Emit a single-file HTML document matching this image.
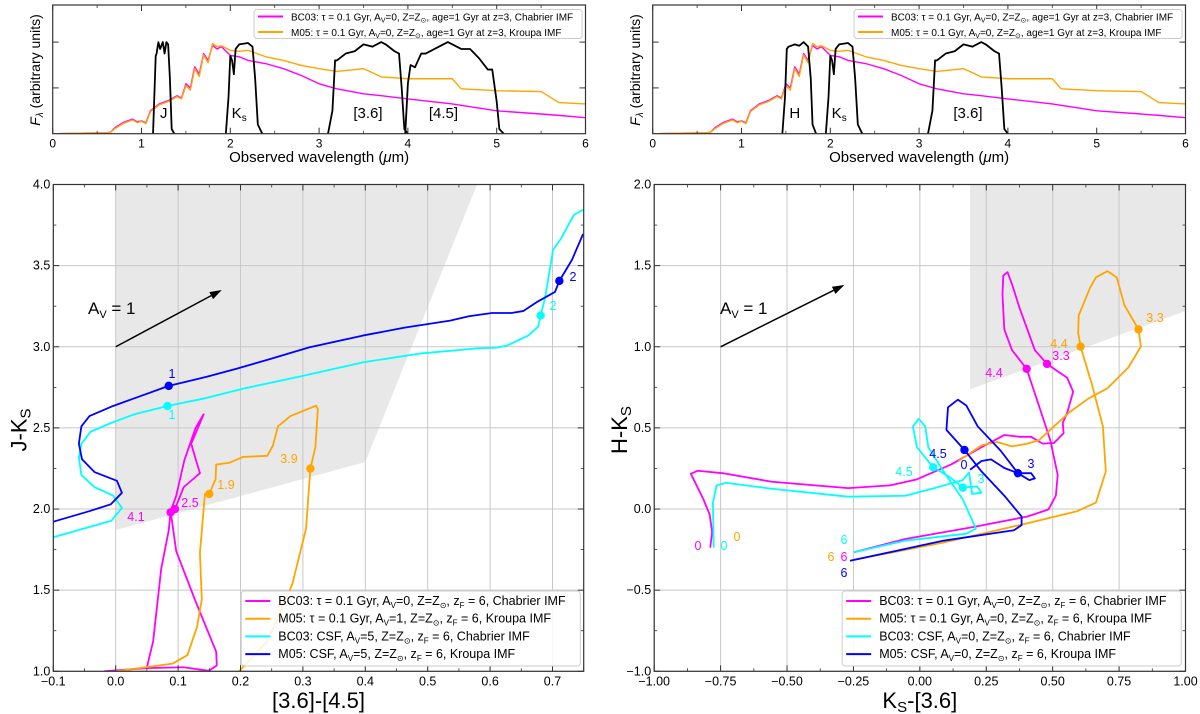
<!DOCTYPE html>
<html><head><meta charset="utf-8">
<style>
html,body{margin:0;padding:0;background:#fff;}
svg{display:block;font-family:"Liberation Sans","DejaVu Sans",sans-serif;}
</style></head>
<body>
<svg id="fig" width="1200" height="714" viewBox="0 0 1200 714" xmlns="http://www.w3.org/2000/svg"></svg>
<script>
// ===== DATA =====
const specWl   = [0.05,0.3,0.6,0.65,0.7,0.8,0.9,0.95,1.0,1.05,1.1,1.2,1.3,1.4,1.45,1.5,1.55,1.6,1.65,1.7,1.75,1.8,1.85,1.9,2.0,2.1,2.2,2.4,2.6,2.8,3.0,3.2,3.5,3.7,4.0,4.5,4.6,5.0,5.5,5.7,6.0];
const bc03Flux = [0.0,0.01,0.02,0.03,0.13,0.25,0.32,0.26,0.28,0.24,0.5,0.65,0.72,0.83,0.78,1.09,1.0,1.46,1.3,1.75,1.6,1.93,1.85,1.9,1.71,1.68,1.6,1.53,1.42,1.27,1.09,0.98,0.87,0.83,0.76,0.65,0.62,0.5,0.43,0.4,0.35];
const m05Flux  = [0.0,0.01,0.02,0.03,0.11,0.23,0.3,0.24,0.27,0.22,0.48,0.63,0.7,0.81,0.76,1.05,0.95,1.42,1.25,1.72,1.55,1.97,1.9,1.92,1.82,1.8,1.82,1.68,1.6,1.49,1.42,1.36,1.42,1.24,1.2,1.2,0.98,0.94,0.92,0.68,0.65];
const jWl = [1.13,1.16,1.17,1.19,1.21,1.24,1.26,1.28,1.30,1.32,1.34,1.37];
const jTr = [0,1.7,1.75,2.0,1.85,2.0,1.75,2.0,1.95,1.2,0.1,0];
const ksWl = [1.95,1.98,2.0,2.02,2.04,2.06,2.1,2.2,2.25,2.28,2.31,2.36];
const ksTr = [0,0.8,1.7,1.6,1.3,1.85,1.95,1.98,1.9,1.2,0.2,0];
const i1Wl = [3.1,3.15,3.18,3.2,3.3,3.4,3.5,3.6,3.7,3.75,3.85,3.9,3.93,3.96,4.0];
const i1Tr = [0,0.5,1.6,1.6,1.75,1.8,1.95,1.9,2.0,1.95,1.8,1.75,1.0,0.1,0];
const i2Wl = [3.97,4.0,4.03,4.08,4.15,4.2,4.3,4.45,4.6,4.7,4.8,4.9,4.95,5.0,5.03,5.08];
const i2Tr = [0,1.1,1.5,1.45,1.75,1.75,1.85,2.0,1.85,1.85,1.65,1.4,1.4,0.7,0.1,0];
const hWl = [1.46,1.49,1.51,1.53,1.6,1.65,1.7,1.75,1.78,1.8,1.84];
const hTr = [0,0.8,1.85,1.9,1.95,1.92,2.0,1.9,1.2,0.2,0];

// left CCD: [3.6]-[4.5] vs J-Ks
const lBlueX = [-0.1,-0.043,-0.008,0.010,0.002,-0.034,-0.054,-0.059,-0.055,-0.042,-0.007,0.036,0.085,0.146,0.195,0.249,0.310,0.396,0.463,0.536,0.566,0.603,0.634,0.653,0.676,0.704,0.711,0.731,0.749];
const lBlueY = [1.922,1.986,2.029,2.100,2.174,2.228,2.307,2.403,2.510,2.573,2.631,2.691,2.759,2.815,2.866,2.926,2.996,3.069,3.118,3.161,3.188,3.208,3.208,3.220,3.278,3.338,3.406,3.534,3.695];
const lCyanX = [-0.1,-0.062,-0.007,0.010,-0.004,-0.034,-0.055,-0.059,-0.055,-0.040,-0.007,0.030,0.083,0.140,0.207,0.298,0.396,0.487,0.579,0.609,0.627,0.661,0.677,0.681,0.688,0.701,0.713,0.734,0.749];
const lCyanY = [1.826,1.868,1.928,2.007,2.082,2.135,2.210,2.317,2.402,2.477,2.531,2.584,2.635,2.680,2.744,2.819,2.904,2.958,2.990,2.994,3.007,3.069,3.124,3.193,3.299,3.598,3.663,3.812,3.844];
const lMagX = [-0.019,0.05,0.109,0.149,0.162,0.161,0.127,0.097,0.088,0.095,0.109,0.135,0.129,0.121,0.134,0.141,0.128,0.11,0.097,0.088,0.085,0.073,0.06,0.05];
const lMagY = [1.0,1.02,1.025,1.003,1.036,1.121,1.441,1.74,1.986,2.0,2.135,2.221,2.296,2.402,2.52,2.584,2.5,2.3,2.082,1.986,1.868,1.634,1.185,1.025];
const lOrgX = [0.0,0.091,0.115,0.130,0.138,0.135,0.143,0.150,0.160,0.161,0.182,0.204,0.243,0.252,0.260,0.280,0.321,0.324,0.320,0.312,0.305,0.283,0.243,0.198];
const lOrgY = [1.0,1.047,1.1,1.27,1.441,1.730,2.093,2.093,2.183,2.274,2.285,2.321,2.328,2.392,2.509,2.573,2.637,2.616,2.381,2.249,1.879,1.537,1.185,1.0];
const lMarkX = [0.085,0.711,0.083,0.681,0.088,0.095,0.150,0.312];
const lMarkY = [2.759,3.406,2.635,3.193,1.980,2.000,2.093,2.249];
const lMarkC = ["#0000ff","#0000ff","#00ffff","#00ffff","#ff00ff","#ff00ff","#ffa500","#ffa500"];
const lMarkT = ["1","2","1","2","4.1","2.5","1.9","3.9"];

// right CCD: Ks-[3.6] vs H-Ks
const rMagX = [-0.789,-0.782,-0.791,-0.815,-0.862,-0.836,-0.743,-0.557,-0.270,-0.112,-0.011,0.118,0.232,0.318,0.376,0.419,0.462,0.505,0.541,0.538,0.555,0.577,0.555,0.479,0.433,0.376,0.347,0.330,0.314,0.311,0.318,0.347,0.402,0.448,0.491,0.519,0.512,0.484,0.405,0.204,-0.055,-0.248];
const rMagY = [-0.238,-0.142,-0.035,0.061,0.217,0.236,0.221,0.168,0.129,0.146,0.183,0.275,0.381,0.456,0.445,0.445,0.403,0.407,0.467,0.531,0.595,0.723,0.808,0.894,0.979,1.236,1.385,1.460,1.438,1.321,1.107,0.979,0.864,0.638,0.424,0.210,0.082,-0.003,-0.046,-0.110,-0.185,-0.266];
const rOrgX = [0.146,0.232,0.29,0.347,0.405,0.448,0.491,0.562,0.634,0.706,0.785,0.832,0.823,0.770,0.741,0.706,0.663,0.641,0.598,0.596,0.605,0.648,0.689,0.700,0.663,0.591,0.376,0.089,-0.248];
const rOrgY = [0.296,0.392,0.413,0.386,0.403,0.424,0.488,0.595,0.680,0.744,0.873,1.001,1.107,1.257,1.428,1.466,1.428,1.364,1.193,1.086,1.001,0.766,0.510,0.232,0.040,-0.014,-0.099,-0.206,-0.313];
const rCyanX = [-0.776,-0.779,-0.765,-0.729,-0.557,-0.27,-0.055,0.046,0.161,0.185,0.197,0.232,0.215,0.162,0.11,0.05,-0.011,-0.026,-0.004,0.020,0.032,0.089,0.161,0.211,0.175,-0.055,-0.248];
const rCyanY = [-0.238,0.039,0.146,0.161,0.125,0.076,0.082,0.125,0.178,0.225,0.093,0.100,0.14,0.132,0.2,0.257,0.381,0.509,0.556,0.509,0.381,0.232,0.061,-0.120,-0.152,-0.195,-0.266];
const rBlueX = [0.189,0.232,0.268,0.318,0.369,0.419,0.433,0.412,0.369,0.304,0.218,0.175,0.143,0.106,0.100,0.168,0.232,0.318,0.383,0.383,0.354,0.089,-0.263];
const rBlueY = [0.242,0.296,0.306,0.253,0.221,0.221,0.189,0.178,0.221,0.360,0.509,0.638,0.674,0.627,0.488,0.364,0.232,0.082,-0.046,-0.099,-0.131,-0.195,-0.319];
const rMarkX = [0.479,0.402,0.823,0.605,0.168,0.369,0.050,0.162];
const rMarkY = [0.894,0.864,1.107,1.001,0.364,0.221,0.257,0.132];
const rMarkC = ["#ff00ff","#ff00ff","#ffa500","#ffa500","#0000ff","#0000ff","#00ffff","#00ffff"];

const lXTicks = [-0.1,0.0,0.1,0.2,0.3,0.4,0.5,0.6,0.7];
const lXTickLabels = ["\u22120.1","0.0","0.1","0.2","0.3","0.4","0.5","0.6","0.7"];
const lYTicks = [1.0,1.5,2.0,2.5,3.0,3.5,4.0];
const lYTickLabels = ["1.0","1.5","2.0","2.5","3.0","3.5","4.0"];
const rXTicks = [-1,-0.75,-0.5,-0.25,0,0.25,0.5,0.75,1.0];
const rXTickLabels = ["\u22121.00","\u22120.75","\u22120.50","\u22120.25","0.00","0.25","0.50","0.75","1.00"];
const rYTicks = [-1,-0.5,0,0.5,1.0,1.5,2.0];
const rYTickLabels = ["\u22121.0","\u22120.5","0.0","0.5","1.0","1.5","2.0"];
const sXTicks = [0,1,2,3,4,5,6];
const sXTickLabels = ["0","1","2","3","4","5","6"];

// ===== DRAWING =====
const NS = "http://www.w3.org/2000/svg";
const svg = document.getElementById("fig");
function mk(tag, attrs, parent){
  const e = document.createElementNS(NS, tag);
  for (const k in attrs) e.setAttribute(k, attrs[k]);
  (parent||svg).appendChild(e);
  return e;
}
function group(name){
  const g = mk("g", {});
  
  
  return g;
}
function pathD(xs, ys, sx, sy){
  let d = "";
  for (let i=0;i<xs.length;i++) d += (i?"L":"M")+sx(xs[i]).toFixed(2)+","+sy(ys[i]).toFixed(2);
  return d;
}
function txt(parent, x, y, s, opts){
  const t = mk("text", Object.assign({x:x, y:y, "font-size":12, fill:"#000"}, opts||{}), parent);
  t.textContent = s;
  return t;
}
function frameAndTicks(g, x0, x1, y0, y1, xt, xtl, sx, yt, ytl, sy, xminor, yminor, showYLabels, fs){
  for (const v of xminor){ const X=sx(v);
    mk("line",{x1:X,y1:y1,x2:X,y2:y1-3,stroke:"#333","stroke-width":0.8},g);
    mk("line",{x1:X,y1:y0,x2:X,y2:y0+3,stroke:"#333","stroke-width":0.8},g);}
  for (const v of yminor){ const Y=sy(v);
    mk("line",{x1:x0,y1:Y,x2:x0+3,y2:Y,stroke:"#333","stroke-width":0.8},g);
    mk("line",{x1:x1,y1:Y,x2:x1-3,y2:Y,stroke:"#333","stroke-width":0.8},g);}
  xt.forEach((v,i)=>{ const X=sx(v);
    mk("line",{x1:X,y1:y1,x2:X,y2:y1-6,stroke:"#333","stroke-width":1},g);
    mk("line",{x1:X,y1:y0,x2:X,y2:y0+6,stroke:"#333","stroke-width":1},g);
    const t = txt(g, X, y1+14, xtl[i], {"text-anchor":"middle","font-size":fs});
    
    
  });
  yt.forEach((v,i)=>{ const Y=sy(v);
    mk("line",{x1:x0,y1:Y,x2:x0+6,y2:Y,stroke:"#333","stroke-width":1},g);
    mk("line",{x1:x1,y1:Y,x2:x1-6,y2:Y,stroke:"#333","stroke-width":1},g);
    if (showYLabels){
      const t = txt(g, x0-3, Y+4, ytl[i], {"text-anchor":"end","font-size":fs});
      
      
    }
  });
  const r = mk("rect",{x:x0,y:y0,width:x1-x0,height:y1-y0,fill:"none",stroke:"#333","stroke-width":1.2},g);
  
  
}
function legend(g, x, y, w, h, entries, fs, rowH, firstY){
  const r = mk("rect",{x:x,y:y,width:w,height:h,rx:3,fill:"#fff","fill-opacity":0.85,stroke:"#ccc","stroke-width":1},g);
  
  
  entries.forEach((e,i)=>{
    const yy = firstY + i*rowH;
    const eg = mk("g",{},g);
    
    
    mk("line",{x1:x+4,y1:yy,x2:x+29,y2:yy,stroke:e.c,"stroke-width":2},eg);
    const t = mk("text",{x:x+37,y:yy+4,"font-size":fs,fill:"#000"},eg);
    t.innerHTML = e.h;
  });
}
function series(g, xs, ys, sx, sy, color, name, w){
  const p = mk("path",{d:pathD(xs,ys,sx,sy),fill:"none",stroke:color,"stroke-width":w||1.8,"stroke-linejoin":"round"},g);
  
  
  return p;
}

// ---------- Spectrum panels ----------
function spectrumPanel(offX, filters, name){
  const g = group(name);
  const x0 = 52.7+offX, x1 = 585.5+offX, y0 = 5, y1 = 133.7;
  const sx = v => x0 + v*(x1-x0)/6;
  const sy = v => y1 - v*45.8;
  const cp = mk("clipPath",{id:"clip"+name},g);
  mk("rect",{x:x0,y:y0,width:x1-x0,height:y1-y0},cp);
  const inner = mk("g",{"clip-path":"url(#clip"+name+")"},g);
  series(inner, specWl, bc03Flux, sx, sy, "#ff00ff", "bc03-spectrum", 1.4);
  series(inner, specWl, m05Flux, sx, sy, "#ffa500", "m05-spectrum", 1.4);
  filters.forEach(f=>{
    series(inner, f.wl, f.tr, sx, sy, "#000", f.name, 1.8);
    const t = txt(g, sx(f.lx), 118, f.lab, {"font-size":15,"text-anchor":"middle"});
    if (f.sub){ const ts = mk("tspan",{"font-size":10,dy:3},t); ts.textContent=f.sub; }
    
    
  });
  frameAndTicks(g, x0, x1, y0, y1, sXTicks, sXTickLabels, sx, [1,2], ["",""], sy,
    [0.5,1.5,2.5,3.5,4.5,5.5], [], false, 12);
  const xl = txt(g, (x0+x1)/2, 162, "", {"text-anchor":"middle","font-size":15});
  xl.innerHTML = 'Observed wavelength (<tspan font-style="italic">\u03bc</tspan>m)';
  
  
  const yl = txt(g, 0, 0, "", {"font-size":14,"text-anchor":"middle",transform:"translate("+(offX+40)+",70) rotate(-90)"});
  yl.innerHTML = '<tspan font-style="italic">F</tspan><tspan font-size="10" dy="3" font-style="italic">\u03bb</tspan><tspan dy="-3"> (arbitrary units)</tspan>';
  
  
  legend(g, 254+offX, 9.5, 328, 29, [
    {c:"#ff00ff", h:'BC03: \u03c4 = 0.1 Gyr, A<tspan font-size="7" dy="2">V</tspan><tspan dy="-2">=0, Z=Z</tspan><tspan font-size="7" dy="2">\u2299</tspan><tspan dy="-2">, age=1 Gyr at z=3, Chabrier IMF</tspan>'},
    {c:"#ffa500", h:'M05: \u03c4 = 0.1 Gyr, A<tspan font-size="7" dy="2">V</tspan><tspan dy="-2">=0, Z=Z</tspan><tspan font-size="7" dy="2">\u2299</tspan><tspan dy="-2">, age=1 Gyr at z=3, Kroupa IMF</tspan>'}
  ], 10, 15.5, 16.5);
}
spectrumPanel(0, [
  {wl:jWl,tr:jTr,name:"j-filter",lab:"J",lx:1.25},
  {wl:ksWl,tr:ksTr,name:"ks-filter",lab:"K",sub:"s",lx:2.1},
  {wl:i1Wl,tr:i1Tr,name:"irac1-filter",lab:"[3.6]",lx:3.55},
  {wl:i2Wl,tr:i2Tr,name:"irac2-filter",lab:"[4.5]",lx:4.4}
], "spectrum-panel-left");
spectrumPanel(600, [
  {wl:hWl,tr:hTr,name:"h-filter",lab:"H",lx:1.6},
  {wl:ksWl,tr:ksTr,name:"ks-filter",lab:"K",sub:"s",lx:2.1},
  {wl:i1Wl,tr:i1Tr,name:"irac1-filter",lab:"[3.6]",lx:3.55}
], "spectrum-panel-right");

// ---------- Color-color panels ----------
function ccPanel(cfg){
  const g = group(cfg.name);
  const {x0,x1,y0,y1,xmin,xmax,ymin,ymax} = cfg;
  const sx = v => x0 + (v-xmin)*(x1-x0)/(xmax-xmin);
  const sy = v => y1 - (v-ymin)*(y1-y0)/(ymax-ymin);
  const cp = mk("clipPath",{id:"clip"+cfg.name},g);
  mk("rect",{x:x0,y:y0,width:x1-x0,height:y1-y0},cp);
  const inner = mk("g",{"clip-path":"url(#clip"+cfg.name+")"},g);
  const sh = mk("polygon",{points:cfg.shade.map(p=>sx(p[0])+","+sy(p[1])).join(" "),fill:"#e8e8e8"},inner);
  
  
  const gg = mk("g",{},inner);
  
  
  cfg.xt.forEach(v=>mk("line",{x1:sx(v),y1:y0,x2:sx(v),y2:y1,stroke:"#c8c8c8","stroke-width":1},gg));
  cfg.yt.forEach(v=>mk("line",{x1:x0,y1:sy(v),x2:x1,y2:sy(v),stroke:"#c8c8c8","stroke-width":1},gg));
  cfg.series.forEach(s=>series(inner, s.x, s.y, sx, sy, s.c, s.name, 1.8));
  cfg.mx.forEach((v,i)=>{
    const c = mk("circle",{cx:sx(v),cy:sy(cfg.my[i]),r:4.2,fill:cfg.mc[i]},inner);
    
    
  });
  cfg.labels.forEach(l=>{
    const t = txt(g, l[0], l[1], l[2], {"font-size":12.5,fill:l[3],"text-anchor":"middle"});
    
    
  });
  const a0x=sx(cfg.arrow[0]), a0y=sy(cfg.arrow[1]), a1x=sx(cfg.arrow[2]), a1y=sy(cfg.arrow[3]);
  const ag = mk("g",{},g);
  
  
  const ang = Math.atan2(a1y-a0y, a1x-a0x);
  const hl=12, hw=4;
  const bx=a1x-hl*Math.cos(ang), by=a1y-hl*Math.sin(ang);
  mk("line",{x1:a0x,y1:a0y,x2:bx,y2:by,stroke:"#000","stroke-width":1.5},ag);
  mk("polygon",{points:a1x+","+a1y+" "+(bx+hw*Math.sin(ang))+","+(by-hw*Math.cos(ang))+" "+(bx-hw*Math.sin(ang))+","+(by+hw*Math.cos(ang)),fill:"#000"},ag);
  const at = txt(g, cfg.avx, 314, "", {"font-size":17});
  at.innerHTML = 'A<tspan font-size="11" dy="4">V</tspan><tspan dy="-4"> = 1</tspan>';
  
  
  frameAndTicks(g, x0, x1, y0, y1, cfg.xt, cfg.xtl, sx, cfg.yt, cfg.ytl, sy, cfg.xminor, cfg.yminor, true, 12.5);
  const xl = txt(g, (x0+x1)/2, 708, "", {"text-anchor":"middle","font-size":22});
  xl.innerHTML = cfg.xlab;
  
  
  const yl = txt(g, 0, 0, "", {"font-size":22,"text-anchor":"middle",transform:"translate("+(x0-27)+",430) rotate(-90)"});
  yl.innerHTML = cfg.ylab;
  
  
  legend(g, x0+188, 591, 339, 75, cfg.leg, 12.5, 17.7, 601);
}
const sub = (s)=>'<tspan font-size="8" dy="3">'+s+'</tspan><tspan dy="-3">';
function legH(a,b,c,d){ return a+sub("V")+b+'</tspan>'+sub("\u2299")+', z</tspan>'+sub("F")+' = 6, '+d+'</tspan>'; }
ccPanel({name:"ccd-left", x0:53.3, x1:583.7, y0:184.5, y1:671.3, xmin:-0.1, xmax:0.75, ymin:1.0, ymax:4.0,
  shade:[[0,4.2],[0.6,4.2],[0.4,2.29],[0,1.87]],
  xt:lXTicks, xtl:lXTickLabels, yt:lYTicks, ytl:lYTickLabels,
  xminor:[-0.05,0.05,0.15,0.25,0.35,0.45,0.55,0.65,0.75], yminor:[1.25,1.75,2.25,2.75,3.25,3.75],
  series:[{x:lMagX,y:lMagY,c:"#ff00ff",name:"bc03-tau-track"},{x:lOrgX,y:lOrgY,c:"#ffa500",name:"m05-tau-track"},
          {x:lCyanX,y:lCyanY,c:"#00ffff",name:"bc03-csf-track"},{x:lBlueX,y:lBlueY,c:"#0000ff",name:"m05-csf-track"}],
  mx:lMarkX, my:lMarkY, mc:lMarkC,
  labels:[[172,378,"1","#0000ff"],[172,419,"1","#00ffff"],[573,281,"2","#0000ff"],[553,310,"2","#00ffff"],
          [136,521,"4.1","#ff00ff"],[190,507,"2.5","#ff00ff"],[226,489,"1.9","#ffa500"],[289,463,"3.9","#ffa500"]],
  arrow:[0,3.0,0.17,3.35], avx:88,
  xlab:'[3.6]-[4.5]', ylab:'J-K<tspan font-size="15" dy="4">S</tspan>',
  leg:[{c:"#ff00ff",h:legH('BC03: \u03c4 = 0.1 Gyr, A','=0, Z=Z','', 'Chabrier IMF')},
       {c:"#ffa500",h:legH('M05: \u03c4 = 0.1 Gyr, A','=1, Z=Z','', 'Kroupa IMF')},
       {c:"#00ffff",h:legH('BC03: CSF, A','=5, Z=Z','', 'Chabrier IMF')},
       {c:"#0000ff",h:legH('M05: CSF, A','=5, Z=Z','', 'Kroupa IMF')}]
});
ccPanel({name:"ccd-right", x0:654.2, x1:1185.5, y0:184.5, y1:671.3, xmin:-1, xmax:1, ymin:-1, ymax:2,
  shade:[[0.189,2.2],[1.1,2.2],[1.1,1.28],[0.189,0.738]],
  xt:rXTicks, xtl:rXTickLabels, yt:rYTicks, ytl:rYTickLabels,
  xminor:[-0.875,-0.625,-0.375,-0.125,0.125,0.375,0.625,0.875], yminor:[-0.75,-0.25,0.25,0.75,1.25,1.75],
  series:[{x:rMagX,y:rMagY,c:"#ff00ff",name:"bc03-tau-track"},{x:rOrgX,y:rOrgY,c:"#ffa500",name:"m05-tau-track"},
          {x:rCyanX,y:rCyanY,c:"#00ffff",name:"bc03-csf-track"},{x:rBlueX,y:rBlueY,c:"#0000ff",name:"m05-csf-track"}],
  mx:rMarkX, my:rMarkY, mc:rMarkC,
  labels:[[1061,360,"3.3","#ff00ff"],[994,377,"4.4","#ff00ff"],[1155,322,"3.3","#ffa500"],[1059,348,"4.4","#ffa500"],
          [938,458,"4.5","#0000ff"],[964,469,"0","#0000ff"],[1031,468,"3","#0000ff"],[904,476,"4.5","#00ffff"],[981,483,"3","#00ffff"],
          [698,550,"0","#ff00ff"],[724,550,"0","#00ffff"],[737,541,"0","#ffa500"],[844,544,"6","#00ffff"],
          [831,561,"6","#ffa500"],[844,561,"6","#ff00ff"],[844,577,"6","#0000ff"]],
  arrow:[-0.75,1.0,-0.284,1.381], avx:720,
  xlab:'K<tspan font-size="15" dy="4">S</tspan><tspan dy="-4">-[3.6]</tspan>', ylab:'H-K<tspan font-size="15" dy="4">S</tspan>',
  leg:[{c:"#ff00ff",h:legH('BC03: \u03c4 = 0.1 Gyr, A','=0, Z=Z','', 'Chabrier IMF')},
       {c:"#ffa500",h:legH('M05: \u03c4 = 0.1 Gyr, A','=0, Z=Z','', 'Kroupa IMF')},
       {c:"#00ffff",h:legH('BC03: CSF, A','=0, Z=Z','', 'Chabrier IMF')},
       {c:"#0000ff",h:legH('M05: CSF, A','=0, Z=Z','', 'Kroupa IMF')}]
});
</script>
</body></html>
